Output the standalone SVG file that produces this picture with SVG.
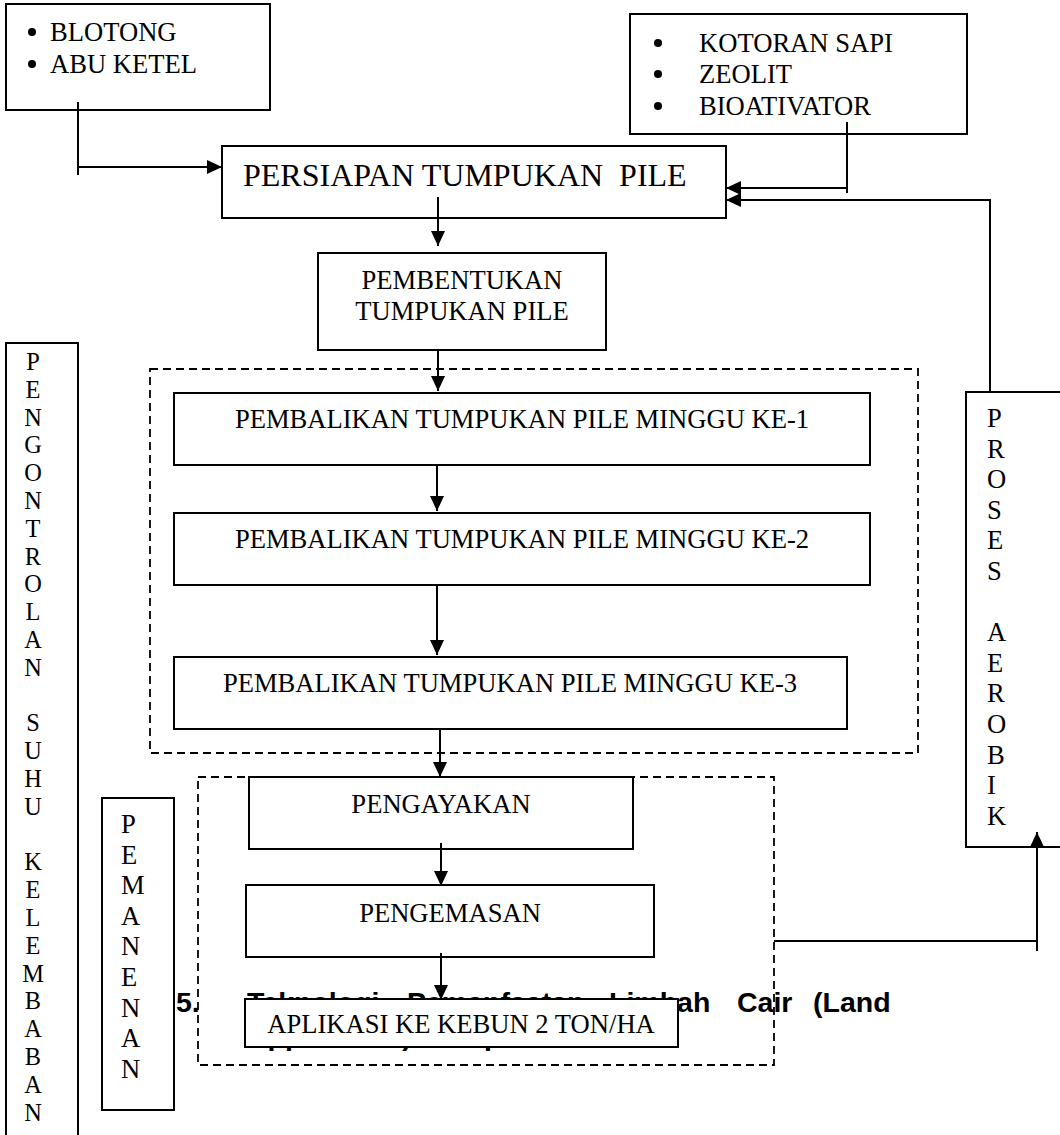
<svg xmlns="http://www.w3.org/2000/svg" width="1060" height="1135" viewBox="0 0 1060 1135">
<style>
.box{fill:#fff;stroke:#000;stroke-width:2}
.dash{fill:none;stroke:#000;stroke-width:1.8;stroke-dasharray:8 5}
.t{font-family:"Liberation Serif","Times New Roman",serif;font-size:26.6px;fill:#000}
.tc{text-anchor:middle}
.big{font-size:32px}
.v24{font-size:24.4px}
.bold{font-family:"Liberation Sans",Arial,sans-serif;font-size:28.5px;font-weight:bold;fill:#000}
.ln{fill:none;stroke:#000;stroke-width:2}
</style>
<defs>
<marker id="ah" markerUnits="userSpaceOnUse" markerWidth="16" markerHeight="14" refX="15" refY="7" orient="auto">
<path d="M0,0 L15,7 L0,14 z" fill="#000"/>
</marker>
</defs>
<rect width="1060" height="1135" fill="#fff"/>

<g id="group-turning">
<rect class="dash" x="150" y="369" width="768" height="384"/>
</g>
<g id="group-harvest">
<rect class="dash" x="198" y="777" width="576" height="288"/>
</g>

<g id="heading">
<text class="bold" x="176" y="1012">5.</text>
<text class="bold" x="247" y="1012">Teknologi</text>
<text class="bold" x="407" y="1012">Pemanfaatan</text>
<text class="bold" x="609" y="1012">Limbah</text>
<text class="bold" x="737" y="1012">Cair</text>
<text class="bold" x="813" y="1012">(Land</text>
<text class="bold" x="247" y="1045">Application)</text>
<text class="bold" x="484" y="1045">pada</text>
</g>

<g id="n-input1">
<rect class="box" x="6" y="4" width="264" height="106"/>
<circle cx="32" cy="32" r="4"/>
<circle cx="32" cy="64" r="4"/>
<text class="t" x="50" y="41">BLOTONG</text>
<text class="t" x="50" y="73">ABU KETEL</text>
</g>

<g id="n-input2">
<rect class="box" x="630" y="14" width="337" height="120"/>
<circle cx="658" cy="43" r="4"/>
<circle cx="658" cy="74" r="4"/>
<circle cx="658" cy="106" r="4"/>
<text class="t" x="699" y="52">KOTORAN SAPI</text>
<text class="t" x="699" y="83">ZEOLIT</text>
<text class="t" x="699" y="115">BIOATIVATOR</text>
</g>

<g id="n-persiapan">
<rect class="box" x="222" y="146" width="504" height="72"/>
<text class="t big" x="243" y="186" xml:space="preserve">PERSIAPAN TUMPUKAN  PILE</text>
</g>

<g id="n-pembentukan">
<rect class="box" x="318" y="253" width="288" height="97"/>
<text class="t tc" x="462" y="289">PEMBENTUKAN</text>
<text class="t tc" x="462" y="320">TUMPUKAN PILE</text>
</g>

<g id="n-balik1">
<rect class="box" x="174" y="393" width="696" height="72"/>
<text class="t tc" x="522" y="428">PEMBALIKAN TUMPUKAN PILE MINGGU KE-1</text>
</g>
<g id="n-balik2">
<rect class="box" x="174" y="513" width="696" height="72"/>
<text class="t tc" x="522" y="548">PEMBALIKAN TUMPUKAN PILE MINGGU KE-2</text>
</g>
<g id="n-balik3">
<rect class="box" x="174" y="657" width="673" height="72"/>
<text class="t tc" x="510" y="692">PEMBALIKAN TUMPUKAN PILE MINGGU KE-3</text>
</g>

<g id="n-pengayakan">
<rect class="box" x="249" y="777" width="384" height="72"/>
<text class="t tc" x="441" y="813">PENGAYAKAN</text>
</g>
<g id="n-pengemasan">
<rect class="box" x="246" y="885" width="408" height="72"/>
<text class="t tc" x="450" y="922">PENGEMASAN</text>
</g>
<g id="n-aplikasi">
<rect class="box" x="245" y="999" width="433" height="48"/>
<text class="t tc" x="461" y="1033">APLIKASI KE KEBUN 2 TON/HA</text>
</g>

<g id="n-pengontrolan">
<rect class="box" x="6" y="343" width="72" height="800"/>
<text class="t v24 tc"><tspan x="33" y="370">P</tspan><tspan x="33" y="397.8">E</tspan><tspan x="33" y="425.6">N</tspan><tspan x="33" y="453.4">G</tspan><tspan x="33" y="481.2">O</tspan><tspan x="33" y="509">N</tspan><tspan x="33" y="536.8">T</tspan><tspan x="33" y="564.6">R</tspan><tspan x="33" y="592.4">O</tspan><tspan x="33" y="620.2">L</tspan><tspan x="33" y="648">A</tspan><tspan x="33" y="675.8">N</tspan><tspan x="33" y="731.4">S</tspan><tspan x="33" y="759.2">U</tspan><tspan x="33" y="787">H</tspan><tspan x="33" y="814.8">U</tspan><tspan x="33" y="870.4">K</tspan><tspan x="33" y="898.2">E</tspan><tspan x="33" y="926">L</tspan><tspan x="33" y="953.8">E</tspan><tspan x="33" y="981.6">M</tspan><tspan x="33" y="1009.4">B</tspan><tspan x="33" y="1037.2">A</tspan><tspan x="33" y="1065">B</tspan><tspan x="33" y="1092.8">A</tspan><tspan x="33" y="1120.6">N</tspan></text>
</g>

<g id="n-pemanenan">
<rect class="box" x="102" y="798" width="72" height="312"/>
<text class="t"><tspan x="121" y="833">P</tspan><tspan x="121" y="863.6">E</tspan><tspan x="121" y="894.2">M</tspan><tspan x="121" y="924.8">A</tspan><tspan x="121" y="955.4">N</tspan><tspan x="121" y="986">E</tspan><tspan x="121" y="1016.6">N</tspan><tspan x="121" y="1047.2">A</tspan><tspan x="121" y="1077.8">N</tspan></text>
</g>

<g id="n-proses">
<rect class="box" x="966" y="392" width="110" height="455"/>
<text class="t"><tspan x="987" y="427">P</tspan><tspan x="987" y="457.6">R</tspan><tspan x="987" y="488.2">O</tspan><tspan x="987" y="518.8">S</tspan><tspan x="987" y="549.4">E</tspan><tspan x="987" y="580">S</tspan><tspan x="987" y="641.2">A</tspan><tspan x="987" y="671.8">E</tspan><tspan x="987" y="702.4">R</tspan><tspan x="987" y="733">O</tspan><tspan x="987" y="763.6">B</tspan><tspan x="987" y="794.2">I</tspan><tspan x="987" y="824.8">K</tspan></text>
</g>

<g id="connectors">
<path class="ln" d="M78,102 V175"/>
<path class="ln" d="M78,167 H222" marker-end="url(#ah)"/>
<path class="ln" d="M847,122 V193"/>
<path class="ln" d="M847,188 H726" marker-end="url(#ah)"/>
<path class="ln" d="M990,392 V200 H726" marker-end="url(#ah)"/>
<path class="ln" d="M438,197 V246" marker-end="url(#ah)"/>
<path class="ln" d="M438,350 V391" marker-end="url(#ah)"/>
<path class="ln" d="M437,465 V511" marker-end="url(#ah)"/>
<path class="ln" d="M437,585 V655" marker-end="url(#ah)"/>
<path class="ln" d="M440,729 V777" marker-end="url(#ah)"/>
<path class="ln" d="M441,843 V886" marker-end="url(#ah)"/>
<path class="ln" d="M441,953 V1000" marker-end="url(#ah)"/>
<path class="ln" d="M774,941 H1037"/>
<path class="ln" d="M1037,951 V832" marker-end="url(#ah)"/>
</g>
</svg>
